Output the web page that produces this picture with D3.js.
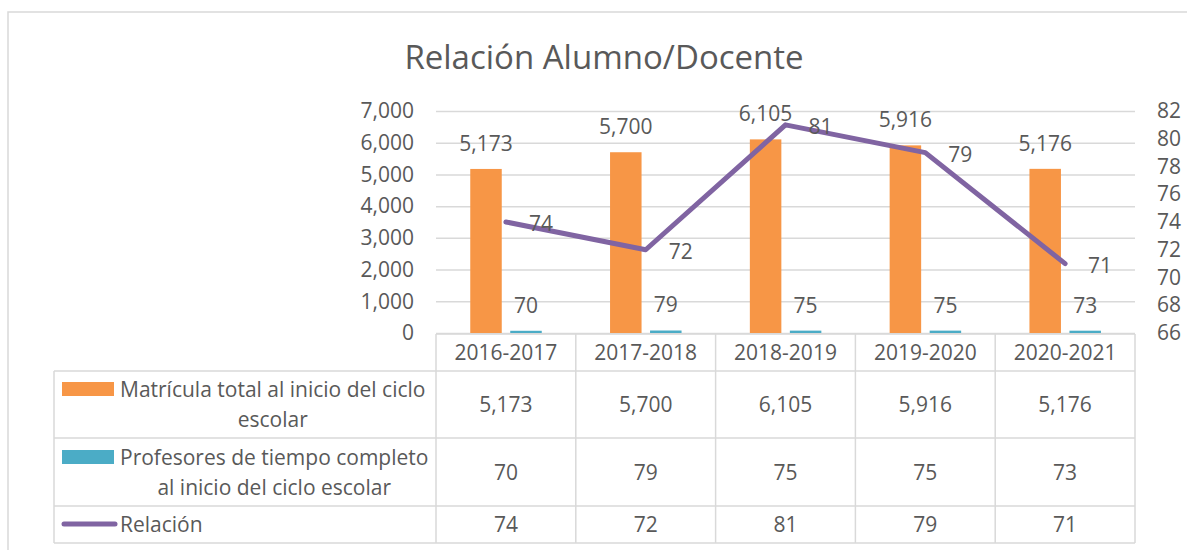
<!DOCTYPE html>
<html>
<head>
<meta charset="utf-8">
<script src="https://cdn.jsdelivr.net/npm/d3@7"></script>
<style>
  body { margin: 0; background: #fff; }
  svg text { font-family: 'Open Sans', sans-serif; fill: #595959; }
</style>
</head>
<body>
<div class="canvas"></div>
<script>
// data
const years = ['2016-2017', '2017-2018', '2018-2019', '2019-2020', '2020-2021'];
const matricula = [5173, 5700, 6105, 5916, 5176];
const profesores = [70, 79, 75, 75, 73];
const relacion = [74, 72, 81, 79, 71];
const leftTicks = [0, 1000, 2000, 3000, 4000, 5000, 6000, 7000];
const rightTicks = [66, 68, 70, 72, 74, 76, 78, 80, 82];
const legendLines = [
  ['Matrícula total al inicio del ciclo', 'escolar'],
  ['Profesores de tiempo completo', 'al inicio del ciclo escolar'],
  ['Relación']
];

const svgWidth = 1187;
const svgHeight = 550;
const plot = { left: 436, right: 1135, top: 111, bottom: 333 };
const colors = { orange: '#f79646', teal: '#4bacc6', purple: '#8064a2', grid: '#d9d9d9' };
const fs = 21;

const svg = d3.select('.canvas').append('svg')
  .attr('width', svgWidth)
  .attr('height', svgHeight);

// chart border
svg.append('rect')
  .attr('x', 8).attr('y', 12)
  .attr('width', svgWidth).attr('height', svgHeight)
  .attr('fill', 'none').attr('stroke', colors.grid).attr('stroke-width', 1.5);

svg.append('text')
  .attr('x', 604).attr('y', 69)
  .attr('text-anchor', 'middle')
  .attr('font-size', 33)
  .text('Relación Alumno/Docente');

const x0 = d3.scaleBand().domain(years).range([plot.left, plot.right]);
const x1 = d3.scaleBand().domain(['m', 'p']).range([34.25, 105.75]).paddingInner(0.2125);
const yLeft = d3.scaleLinear().domain([0, 7000]).range([plot.bottom, plot.top]);
const yRight = d3.scaleLinear().domain([66, 82]).range([plot.bottom, plot.top]);

// gridlines
const grid = svg.append('g').attr('transform', `translate(${plot.left},0)`)
  .call(d3.axisLeft(yLeft).tickValues(leftTicks).tickSize(-(plot.right - plot.left)).tickFormat(''));
grid.select('.domain').remove();
grid.selectAll('line').attr('stroke', colors.grid).attr('stroke-width', 1.5);

// left axis
const yAxisGroup = svg.append('g').attr('transform', `translate(${plot.left - 22},0)`)
  .call(d3.axisLeft(yLeft).tickValues(leftTicks).tickSize(0).tickFormat(d3.format(',')));
yAxisGroup.select('.domain').remove();
yAxisGroup.selectAll('text').attr('font-size', fs).attr('x', 0).attr('fill', '#595959')
  .attr('font-family', "'Open Sans', sans-serif");

// right axis
const y2AxisGroup = svg.append('g').attr('transform', `translate(1157,0)`)
  .call(d3.axisRight(yRight).tickValues(rightTicks).tickSize(0));
y2AxisGroup.select('.domain').remove();
y2AxisGroup.selectAll('text').attr('font-size', fs).attr('x', 0).attr('fill', '#595959')
  .attr('font-family', "'Open Sans', sans-serif");

// bars
const bars = svg.append('g');
bars.selectAll('rect.m').data(years).enter().append('rect')
  .attr('x', (d) => x0(d) + x1('m'))
  .attr('y', (d, i) => yLeft(matricula[i]))
  .attr('width', x1.bandwidth())
  .attr('height', (d, i) => plot.bottom - yLeft(matricula[i]))
  .attr('fill', colors.orange);
bars.selectAll('rect.p').data(years).enter().append('rect')
  .attr('x', (d) => x0(d) + x1('p'))
  .attr('y', (d, i) => yLeft(profesores[i]))
  .attr('width', x1.bandwidth())
  .attr('height', (d, i) => plot.bottom - yLeft(profesores[i]))
  .attr('fill', colors.teal);

// bar labels
bars.selectAll('text.m').data(years).enter().append('text')
  .attr('x', (d) => x0(d) + x1('m') + x1.bandwidth() / 2)
  .attr('y', (d, i) => yLeft(matricula[i]) - 18)
  .attr('text-anchor', 'middle').attr('font-size', fs)
  .text((d, i) => d3.format(',')(matricula[i]));
bars.selectAll('text.p').data(years).enter().append('text')
  .attr('x', (d) => x0(d) + x1('p') + x1.bandwidth() / 2)
  .attr('y', (d, i) => yLeft(profesores[i]) - 18)
  .attr('text-anchor', 'middle').attr('font-size', fs)
  .text((d, i) => profesores[i]);

// line
const cx = (d) => x0(d) + x0.bandwidth() / 2;
const line = d3.line().x((d) => cx(d)).y((d, i) => yRight(relacion[i]));
svg.append('path').datum(years)
  .attr('d', line)
  .attr('fill', 'none').attr('stroke', colors.purple)
  .attr('stroke-width', 5).attr('stroke-linejoin', 'round').attr('stroke-linecap', 'round');
svg.append('g').selectAll('text').data(years).enter().append('text')
  .attr('x', (d) => cx(d) + 23)
  .attr('y', (d, i) => yRight(relacion[i]) + 9)
  .attr('font-size', fs)
  .text((d, i) => relacion[i]);

// data table
const rows = [334, 371, 438, 506, 543];
const tableLeft = 54;
const table = svg.append('g');
const tLine = (x1_, y1_, x2_, y2_) => table.append('line')
  .attr('x1', x1_).attr('y1', y1_).attr('x2', x2_).attr('y2', y2_)
  .attr('stroke', colors.grid).attr('stroke-width', 1.5);
tLine(plot.left, rows[0], plot.right, rows[0]);
rows.slice(1).forEach((r) => tLine(tableLeft, r, plot.right, r));
tLine(tableLeft, rows[1], tableLeft, rows[4]);
years.forEach((d) => tLine(x0(d), rows[0], x0(d), rows[4]));
tLine(plot.right, rows[0], plot.right, rows[4]);

const rowMid = (k) => (rows[k] + rows[k + 1]) / 2;
const cellText = (vals, k, fmt) => table.selectAll(null).data(years).enter().append('text')
  .attr('x', (d) => cx(d)).attr('y', rowMid(k) + 7.5)
  .attr('text-anchor', 'middle').attr('font-size', fs)
  .text((d, i) => fmt ? fmt(vals[i]) : vals[i]);
cellText(years, 0);
cellText(matricula, 1, d3.format(','));
cellText(profesores, 2);
cellText(relacion, 3);

// legend keys
table.append('rect').attr('x', 62).attr('y', 382).attr('width', 52).attr('height', 14).attr('fill', colors.orange);
table.append('rect').attr('x', 62).attr('y', 450).attr('width', 52).attr('height', 14).attr('fill', colors.teal);
table.append('line').attr('x1', 64).attr('x2', 115).attr('y1', 524).attr('y2', 524)
  .attr('stroke', colors.purple).attr('stroke-width', 5).attr('stroke-linecap', 'round');

// legend labels
legendLines.forEach((lines, k) => {
  const n = lines.length;
  const mid = rowMid(k + 1);
  const first = table.append('text')
    .attr('x', 120).attr('y', mid - (n - 1) * 15 + 7.5)
    .attr('font-size', fs).text(lines[0]);
  const w = first.node().getComputedTextLength();
  lines.slice(1).forEach((t, j) => {
    table.append('text')
      .attr('x', 120 + w / 2).attr('y', mid - (n - 1) * 15 + 7.5 + (j + 1) * 30)
      .attr('text-anchor', 'middle').attr('font-size', fs).text(t);
  });
});
</script>
</body>
</html>
